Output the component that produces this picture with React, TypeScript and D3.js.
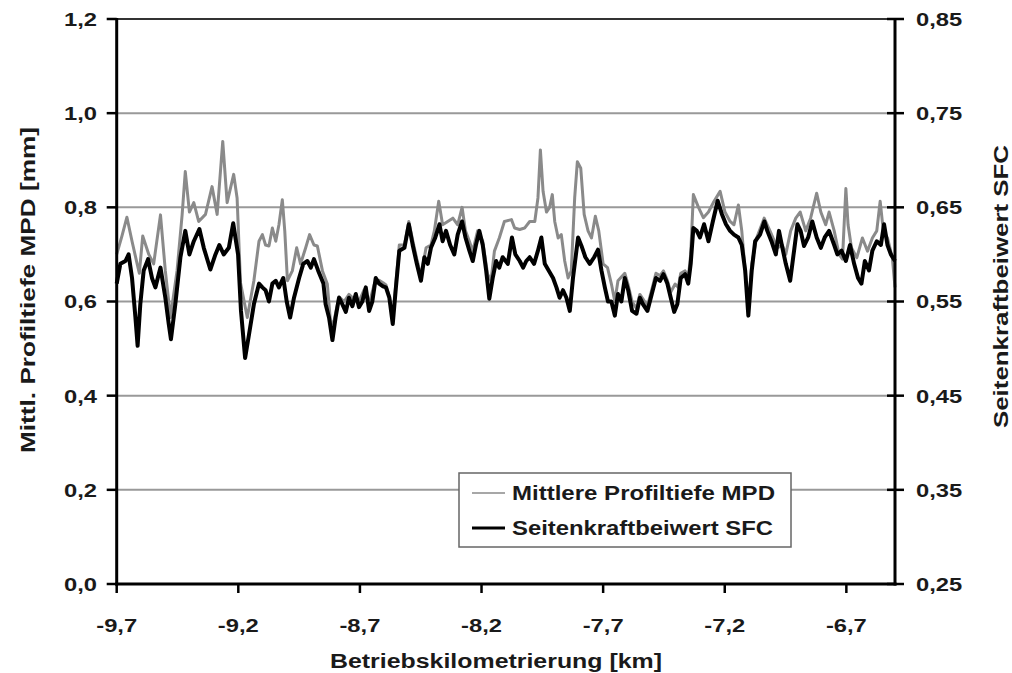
import React from 'react';
import * as d3 from 'd3';

// Betriebskilometrierung (km) axis ticks and the two y-axis tick sets
const kmTicks = [-9.7, -9.2, -8.7, -8.2, -7.7, -7.2, -6.7];
const mpdTicks = [0, 0.2, 0.4, 0.6, 0.8, 1.0, 1.2];
const sfcTicks = [0.25, 0.35, 0.45, 0.55, 0.65, 0.75, 0.85];

// Mittlere Profiltiefe MPD [mm]
const mpdKm = [
  -9.700, -9.678, -9.658, -9.637, -9.616, -9.607, -9.593, -9.568, -9.548, -9.520,
  -9.500, -9.479, -9.452, -9.431, -9.418, -9.401, -9.383, -9.363, -9.335, -9.308,
  -9.287, -9.264, -9.246, -9.219, -9.205, -9.191, -9.163, -9.136, -9.115, -9.101,
  -9.088, -9.074, -9.060, -9.046, -9.033, -9.019, -9.009, -8.998, -8.978, -8.960,
  -8.944, -8.923, -8.907, -8.889, -8.875, -8.854, -8.834, -8.820, -8.806, -8.786,
  -8.765, -8.745, -8.724, -8.704, -8.683, -8.662, -8.642, -8.621, -8.605, -8.593,
  -8.579, -8.565, -8.552, -8.538, -8.517, -8.499, -8.483, -8.466, -8.449, -8.428,
  -8.408, -8.394, -8.376, -8.360, -8.339, -8.318, -8.298, -8.280, -8.266, -8.250,
  -8.236, -8.216, -8.195, -8.175, -8.161, -8.147, -8.127, -8.106, -8.077, -8.064,
  -8.043, -8.023, -8.002, -7.981, -7.968, -7.958, -7.947, -7.933, -7.920, -7.909,
  -7.899, -7.885, -7.872, -7.858, -7.844, -7.831, -7.817, -7.806, -7.792, -7.778,
  -7.762, -7.748, -7.732, -7.718, -7.700, -7.682, -7.666, -7.652, -7.639, -7.611,
  -7.597, -7.581, -7.563, -7.549, -7.536, -7.518, -7.500, -7.483, -7.466, -7.452,
  -7.436, -7.422, -7.404, -7.391, -7.381, -7.363, -7.350, -7.340, -7.329, -7.308,
  -7.288, -7.267, -7.247, -7.219, -7.199, -7.178, -7.162, -7.144, -7.130, -7.116,
  -7.103, -7.089, -7.069, -7.038, -7.014, -6.984, -6.963, -6.949, -6.929, -6.908,
  -6.890, -6.867, -6.847, -6.822, -6.805, -6.785, -6.771, -6.750, -6.730, -6.716,
  -6.702, -6.693, -6.679, -6.657, -6.634, -6.613, -6.593, -6.575, -6.561, -6.548,
  -6.531, -6.511, -6.500,
];
const mpdValues = [
  0.700, 0.740, 0.779, 0.728, 0.680, 0.660, 0.739, 0.700, 0.680, 0.784,
  0.665, 0.566, 0.665, 0.784, 0.876, 0.790, 0.810, 0.770, 0.785, 0.844,
  0.785, 0.940, 0.810, 0.870, 0.820, 0.640, 0.566, 0.644, 0.728, 0.742,
  0.720, 0.718, 0.756, 0.728, 0.763, 0.816, 0.750, 0.644, 0.665, 0.714,
  0.680, 0.714, 0.742, 0.720, 0.718, 0.665, 0.637, 0.550, 0.560, 0.610,
  0.600, 0.615, 0.605, 0.600, 0.625, 0.595, 0.635, 0.645, 0.640, 0.635,
  0.610, 0.560, 0.640, 0.720, 0.720, 0.770, 0.730, 0.690, 0.655, 0.714,
  0.720, 0.750, 0.813, 0.763, 0.770, 0.777, 0.763, 0.800, 0.750, 0.728,
  0.707, 0.750, 0.728, 0.658, 0.644, 0.707, 0.735, 0.770, 0.774, 0.756,
  0.753, 0.756, 0.770, 0.770, 0.820, 0.922, 0.834, 0.790, 0.800, 0.827,
  0.770, 0.735, 0.742, 0.686, 0.650, 0.665, 0.820, 0.897, 0.883, 0.785,
  0.750, 0.735, 0.781, 0.750, 0.680, 0.672, 0.637, 0.600, 0.644, 0.660,
  0.635, 0.600, 0.585, 0.615, 0.605, 0.590, 0.625, 0.660, 0.655, 0.665,
  0.645, 0.620, 0.637, 0.630, 0.660, 0.665, 0.650, 0.700, 0.827, 0.800,
  0.778, 0.790, 0.810, 0.834, 0.790, 0.770, 0.763, 0.805, 0.750, 0.665,
  0.580, 0.680, 0.735, 0.777, 0.750, 0.714, 0.720, 0.700, 0.750, 0.777,
  0.790, 0.750, 0.777, 0.830, 0.790, 0.763, 0.790, 0.750, 0.700, 0.690,
  0.840, 0.763, 0.714, 0.693, 0.735, 0.707, 0.735, 0.750, 0.813, 0.750,
  0.735, 0.693, 0.630,
];

// Seitenkraftbeiwert SFC
const sfcKm = [
  -9.700, -9.685, -9.664, -9.651, -9.637, -9.623, -9.614, -9.603, -9.589, -9.571,
  -9.555, -9.541, -9.520, -9.500, -9.486, -9.477, -9.459, -9.438, -9.418, -9.401,
  -9.383, -9.360, -9.342, -9.315, -9.294, -9.278, -9.260, -9.239, -9.221, -9.201,
  -9.189, -9.172, -9.156, -9.136, -9.115, -9.101, -9.088, -9.074, -9.060, -9.046,
  -9.033, -9.015, -9.001, -8.987, -8.971, -8.950, -8.933, -8.916, -8.902, -8.889,
  -8.872, -8.850, -8.841, -8.827, -8.813, -8.800, -8.786, -8.772, -8.758, -8.745,
  -8.731, -8.717, -8.704, -8.690, -8.676, -8.662, -8.649, -8.635, -8.621, -8.605,
  -8.593, -8.579, -8.565, -8.552, -8.538, -8.517, -8.499, -8.483, -8.466, -8.449,
  -8.435, -8.421, -8.408, -8.390, -8.373, -8.360, -8.346, -8.329, -8.312, -8.298,
  -8.280, -8.266, -8.250, -8.236, -8.223, -8.209, -8.195, -8.181, -8.168, -8.154,
  -8.140, -8.127, -8.113, -8.092, -8.075, -8.061, -8.043, -8.029, -8.016, -8.002,
  -7.984, -7.968, -7.954, -7.940, -7.924, -7.906, -7.892, -7.879, -7.865, -7.851,
  -7.837, -7.824, -7.803, -7.789, -7.773, -7.755, -7.737, -7.721, -7.707, -7.693,
  -7.680, -7.666, -7.652, -7.639, -7.625, -7.611, -7.597, -7.581, -7.563, -7.549,
  -7.536, -7.518, -7.500, -7.483, -7.466, -7.452, -7.436, -7.422, -7.408, -7.395,
  -7.381, -7.363, -7.350, -7.340, -7.329, -7.315, -7.302, -7.285, -7.267, -7.249,
  -7.229, -7.212, -7.195, -7.178, -7.162, -7.144, -7.130, -7.116, -7.103, -7.089,
  -7.075, -7.055, -7.037, -7.025, -7.008, -6.990, -6.977, -6.963, -6.949, -6.931,
  -6.915, -6.901, -6.888, -6.874, -6.857, -6.840, -6.822, -6.805, -6.789, -6.771,
  -6.750, -6.737, -6.720, -6.702, -6.685, -6.668, -6.652, -6.638, -6.624, -6.607,
  -6.593, -6.575, -6.558, -6.545, -6.531, -6.517, -6.500,
];
const sfcValues = [
  0.569, 0.590, 0.593, 0.600, 0.575, 0.533, 0.503, 0.547, 0.583, 0.595,
  0.575, 0.565, 0.586, 0.554, 0.526, 0.510, 0.547, 0.597, 0.625, 0.600,
  0.614, 0.627, 0.607, 0.584, 0.600, 0.610, 0.600, 0.607, 0.633, 0.600,
  0.540, 0.490, 0.515, 0.547, 0.569, 0.565, 0.562, 0.550, 0.569, 0.572,
  0.565, 0.575, 0.550, 0.533, 0.554, 0.575, 0.590, 0.593, 0.586, 0.595,
  0.583, 0.569, 0.547, 0.533, 0.509, 0.533, 0.554, 0.547, 0.539, 0.554,
  0.545, 0.558, 0.544, 0.550, 0.565, 0.540, 0.550, 0.575, 0.569, 0.566,
  0.565, 0.554, 0.526, 0.565, 0.604, 0.607, 0.632, 0.610, 0.590, 0.572,
  0.597, 0.590, 0.607, 0.618, 0.632, 0.614, 0.625, 0.610, 0.600, 0.621,
  0.635, 0.618, 0.604, 0.593, 0.610, 0.625, 0.610, 0.583, 0.553, 0.575,
  0.593, 0.586, 0.597, 0.590, 0.618, 0.600, 0.593, 0.586, 0.593, 0.597,
  0.590, 0.604, 0.618, 0.590, 0.583, 0.575, 0.565, 0.554, 0.562, 0.554,
  0.540, 0.575, 0.618, 0.609, 0.597, 0.590, 0.597, 0.605, 0.583, 0.565,
  0.550, 0.550, 0.535, 0.558, 0.550, 0.575, 0.562, 0.540, 0.537, 0.554,
  0.547, 0.540, 0.558, 0.575, 0.572, 0.579, 0.569, 0.554, 0.539, 0.547,
  0.575, 0.579, 0.569, 0.590, 0.628, 0.625, 0.618, 0.632, 0.614, 0.635,
  0.657, 0.643, 0.632, 0.625, 0.621, 0.618, 0.610, 0.583, 0.535, 0.583,
  0.614, 0.621, 0.635, 0.625, 0.614, 0.600, 0.625, 0.607, 0.590, 0.572,
  0.604, 0.632, 0.625, 0.609, 0.618, 0.635, 0.618, 0.607, 0.618, 0.625,
  0.610, 0.600, 0.604, 0.593, 0.610, 0.590, 0.575, 0.569, 0.593, 0.583,
  0.604, 0.614, 0.610, 0.632, 0.610, 0.600, 0.593,
];

const mpdSeries = mpdKm.map((km, i) => ({ km, v: mpdValues[i] }));
const sfcSeries = sfcKm.map((km, i) => ({ km, v: sfcValues[i] }));

const FONT = '"Liberation Sans", Arial, Helvetica, sans-serif';
const TEXT = '#1a1a1a';
// German decimal comma, plain hyphen for negatives
const deLabel = (s: string) => s.replace('.', ',').replace('\u2212', '-');
const TICK_STRETCH = 1.25;

export default function App() {
  const left = 116.7, right = 895, top = 19, bottom = 584;
  const x = d3.scaleLinear().domain([-9.7, -6.5]).range([left, right]);
  const yL = d3.scaleLinear().domain([0, 1.2]).range([bottom, top]);
  const yR = d3.scaleLinear().domain([0.25, 0.85]).range([bottom, top]);

  const mpdLine = d3.line<{ km: number; v: number }>().x(d => x(d.km)).y(d => yL(d.v));
  const sfcLine = d3.line<{ km: number; v: number }>().x(d => x(d.km)).y(d => yR(d.v));

  const fmt1 = d3.format('.1f');
  const fmt2 = d3.format('.2f');

  const legend = { x: 459, y: 473, w: 332, h: 74 };

  return (
    <svg
      width={1012}
      height={673}
      style={{ position: 'absolute', left: 0, top: 0, background: '#fff' }}
      fontFamily={FONT}
      fontWeight="bold"
    >
      <rect x={0} y={0} width={1012} height={673} fill="#fff" />

      {/* horizontal gridlines */}
      {mpdTicks.filter(t => t > 0 && t < 1.2).map(t => (
        <line key={'g' + t} x1={left} x2={right} y1={yL(t)} y2={yL(t)} stroke="#999" strokeWidth={2} />
      ))}
      {/* top border of the plot area */}
      <line x1={left} x2={right} y1={top} y2={top} stroke="#333" strokeWidth={2} />

      {/* data */}
      <path d={mpdLine(mpdSeries) || ''} fill="none" stroke="#8a8a8a" strokeWidth={3} strokeLinejoin="round" />
      <path d={sfcLine(sfcSeries) || ''} fill="none" stroke="#000" strokeWidth={4} strokeLinejoin="round" />

      {/* axes */}
      <line x1={left} x2={left} y1={top - 1} y2={bottom + 1.5} stroke="#000" strokeWidth={3} />
      <line x1={right} x2={right} y1={top - 1} y2={bottom + 1.5} stroke="#000" strokeWidth={3} />
      <line x1={left - 1.5} x2={right + 1.5} y1={bottom} y2={bottom} stroke="#000" strokeWidth={3} />

      {/* left ticks + labels */}
      {mpdTicks.map(t => (
        <g key={'l' + t}>
          <line x1={left - 10} x2={left} y1={yL(t)} y2={yL(t)} stroke="#000" strokeWidth={2.5} />
          <text
            transform={`translate(97,${yL(t)}) scale(${TICK_STRETCH},1)`}
            dy="0.36em" textAnchor="end" fontSize={19} fill={TEXT}
          >
            {deLabel(fmt1(t))}
          </text>
        </g>
      ))}

      {/* right ticks + labels */}
      {sfcTicks.map(t => (
        <g key={'r' + t}>
          <line x1={right - 8} x2={right + 9} y1={yR(t)} y2={yR(t)} stroke="#000" strokeWidth={2.5} />
          <text
            transform={`translate(916,${yR(t)}) scale(${TICK_STRETCH},1)`}
            dy="0.36em" textAnchor="start" fontSize={19} fill={TEXT}
          >
            {deLabel(fmt2(t))}
          </text>
        </g>
      ))}

      {/* bottom ticks + labels */}
      {kmTicks.map(t => (
        <g key={'b' + t}>
          <line x1={x(t)} x2={x(t)} y1={bottom} y2={bottom + 9} stroke="#000" strokeWidth={2.5} />
          <text
            transform={`translate(${x(t)},632) scale(${TICK_STRETCH},1)`}
            textAnchor="middle" fontSize={19} fill={TEXT}
          >
            {deLabel(fmt1(t))}
          </text>
        </g>
      ))}

      {/* axis titles */}
      <text x={330} y={668} fontSize={20} fill={TEXT} textLength={332} lengthAdjust="spacingAndGlyphs">
        Betriebskilometrierung [km]
      </text>
      <text
        transform="translate(35,453) rotate(-90)"
        fontSize={20} fill={TEXT} textLength={326} lengthAdjust="spacingAndGlyphs"
      >
        Mittl. Profiltiefe MPD [mm]
      </text>
      <text
        transform="translate(1008,428) rotate(-90)"
        fontSize={20} fill={TEXT} textLength={283} lengthAdjust="spacingAndGlyphs"
      >
        Seitenkraftbeiwert SFC
      </text>

      {/* legend */}
      <rect x={legend.x} y={legend.y} width={legend.w} height={legend.h} fill="#fff" stroke="#666" strokeWidth={1.5} />
      <line x1={472} x2={505} y1={493} y2={493} stroke="#8a8a8a" strokeWidth={1.5} />
      <text x={512} y={493} dy="0.36em" fontSize={20} fill={TEXT} textLength={263} lengthAdjust="spacingAndGlyphs">
        Mittlere Profiltiefe MPD
      </text>
      <line x1={472} x2={505} y1={528} y2={528} stroke="#000" strokeWidth={3} />
      <text x={512} y={528} dy="0.36em" fontSize={20} fill={TEXT} textLength={261} lengthAdjust="spacingAndGlyphs">
        Seitenkraftbeiwert SFC
      </text>
    </svg>
  );
}
